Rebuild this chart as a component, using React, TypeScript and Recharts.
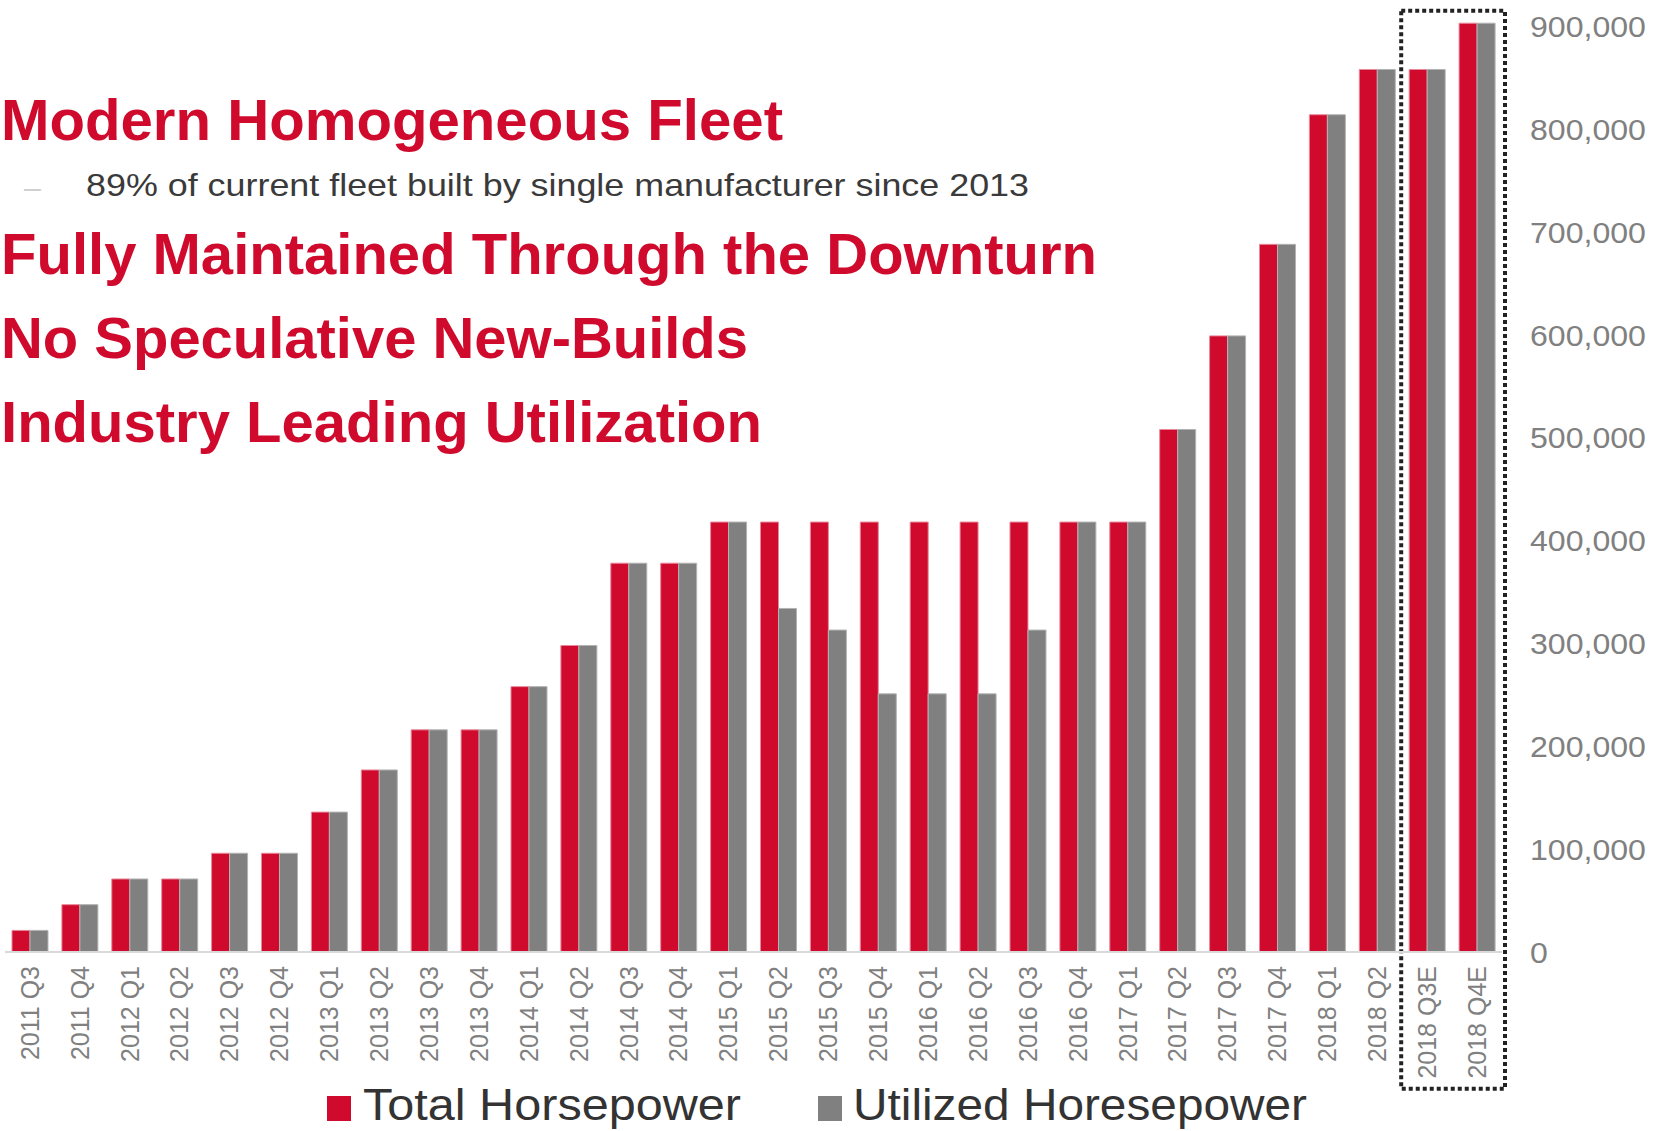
import { BarChart, Bar, XAxis, YAxis, Legend, ReferenceArea } from "recharts"

const quarters = [
  "2011 Q3", "2011 Q4", "2012 Q1", "2012 Q2", "2012 Q3", "2012 Q4",
  "2013 Q1", "2013 Q2", "2013 Q3", "2013 Q4", "2014 Q1", "2014 Q2",
  "2014 Q3", "2014 Q4", "2015 Q1", "2015 Q2", "2015 Q3", "2015 Q4",
  "2016 Q1", "2016 Q2", "2016 Q3", "2016 Q4", "2017 Q1", "2017 Q2",
  "2017 Q3", "2017 Q4", "2018 Q1", "2018 Q2", "2018 Q3E", "2018 Q4E",
]

const totalHp = [
  21000, 46000, 71000, 71000, 96000, 96000,
  136000, 177000, 216000, 216000, 258000, 298000,
  378000, 378000, 418000, 418000, 418000, 418000,
  418000, 418000, 418000, 418000, 418000, 508000,
  599000, 688000, 814000, 858000, 858000, 903000,
]

const utilizedHp = [
  21000, 46000, 71000, 71000, 96000, 96000,
  136000, 177000, 216000, 216000, 258000, 298000,
  378000, 378000, 418000, 334000, 313000, 251000,
  251000, 251000, 313000, 418000, 418000, 508000,
  599000, 688000, 814000, 858000, 858000, 903000,
]

const yTicks = [0, 100000, 200000, 300000, 400000, 500000, 600000, 700000, 800000, 900000]

// estimate quarters boxed with the dotted outline
const estimateStart = "2018 Q3E"
const estimateEnd = "2018 Q4E"

const headlines = [
  "Modern Homogeneous Fleet",
  "Fully Maintained Through the Downturn",
  "No Speculative New-Builds",
  "Industry Leading Utilization",
]
const subPoint = "89% of current fleet built by single manufacturer since 2013"

const legendItems = [
  { name: "Total Horsepower", color: "#CF0A2C" },
  { name: "Utilized Horesepower", color: "#808080" },
]

const RED = "#CF0A2C"
const GRAY = "#808080"
const FONT = '"Liberation Sans", Arial, Helvetica, sans-serif'

const data = quarters.map((q, i) => ({ quarter: q, total: totalHp[i], utilized: utilizedHp[i] }))

function QuarterTick({ x, y, payload }: any) {
  return (
    <text
      x={x}
      y={y}
      transform={`rotate(-90, ${x}, ${y})`}
      textAnchor="end"
      dy="0.35em"
      fill={GRAY}
      fontSize={25}
      fontFamily={FONT}
    >
      {payload.value}
    </text>
  )
}

// the source art is a bit wide, so stretch the numbers sideways
function ValueTick({ x, y, payload }: any) {
  return (
    <text
      transform={`translate(${x},${y}) scale(1.07,1)`}
      dy="0.355em"
      fill={GRAY}
      fontSize={30}
      fontFamily={FONT}
    >
      {Number(payload.value).toLocaleString("en-US")}
    </text>
  )
}

function HpLegend() {
  const spots = [
    { box: 327, text: 363, len: 378 },
    { box: 818, text: 853, len: 454 },
  ]
  return (
    <svg width={1666} height={60} fontFamily={FONT} style={{ display: "block" }}>
      {legendItems.map((it, i) => (
        <g key={it.name}>
          <rect x={spots[i].box} y={25} width={24} height={25} fill={it.color} />
          <text x={spots[i].text} y={49} fontSize={45} fill="#333" textLength={spots[i].len} lengthAdjust="spacingAndGlyphs">
            {it.name}
          </text>
        </g>
      ))}
    </svg>
  )
}

function DottedBox(p: any) {
  return (
    <rect
      x={p.x - 1}
      y={p.y}
      width={p.width + 4}
      height={p.height}
      fill="none"
      stroke="#222"
      strokeWidth={4}
      strokeDasharray="4 3"
    />
  )
}

export default function App() {
  return (
    <div style={{ position: "absolute", left: 0, top: 0, width: 1666, height: 1131, background: "#fff" }}>
      <BarChart
        width={1666}
        height={1131}
        data={data}
        margin={{ top: 16, right: 0, bottom: 0, left: 5 }}
        barCategoryGap="14%"
        barGap={0}
      >
        <XAxis
          dataKey="quarter"
          interval={0}
          height={119}
          tickLine={false}
          tickSize={0}
          tickMargin={14}
          axisLine={{ stroke: "#d9d9d9", strokeWidth: 2 }}
          tick={<QuarterTick />}
        />
        <YAxis
          orientation="right"
          width={164}
          domain={[0, 910000]}
          ticks={yTicks}
          axisLine={false}
          tickLine={false}
          tickSize={0}
          tickMargin={28}
          tick={<ValueTick />}
        />
        <Legend
          verticalAlign="bottom"
          height={60}
          wrapperStyle={{ left: 0, bottom: 0, width: 1666, height: 60 }}
          content={<HpLegend />}
        />
        <Bar dataKey="total" name="Total Horsepower" fill={RED} stroke="#e8899b" strokeWidth={1} isAnimationActive={false} />
        <Bar dataKey="utilized" name="Utilized Horesepower" fill={GRAY} stroke="#b3b3b3" strokeWidth={1} isAnimationActive={false} />
        <ReferenceArea
          x1={estimateStart}
          x2={estimateEnd}
          y1={-133000}
          y2={915000}
          ifOverflow="visible"
          shape={<DottedBox />}
        />
      </BarChart>
      <svg
        width={1666}
        height={1131}
        style={{ position: "absolute", left: 0, top: 0, pointerEvents: "none" }}
        fontFamily={FONT}
        fontWeight="bold"
        fill={RED}
      >
        <text x={1} y={140} fontSize={58} textLength={782} lengthAdjust="spacingAndGlyphs">{headlines[0]}</text>
        <text x={24} y={198} fontSize={32} fontWeight="normal" fill="#d0d0d0" textLength={17} lengthAdjust="spacingAndGlyphs">–</text>
        <text x={86} y={196} fontSize={32} fontWeight="normal" fill="#3a3a3a" textLength={943} lengthAdjust="spacingAndGlyphs">{subPoint}</text>
        <text x={1} y={274} fontSize={58} textLength={1096} lengthAdjust="spacingAndGlyphs">{headlines[1]}</text>
        <text x={1} y={358} fontSize={58} textLength={747} lengthAdjust="spacingAndGlyphs">{headlines[2]}</text>
        <text x={1} y={442} fontSize={58} textLength={761} lengthAdjust="spacingAndGlyphs">{headlines[3]}</text>
      </svg>
    </div>
  )
}
